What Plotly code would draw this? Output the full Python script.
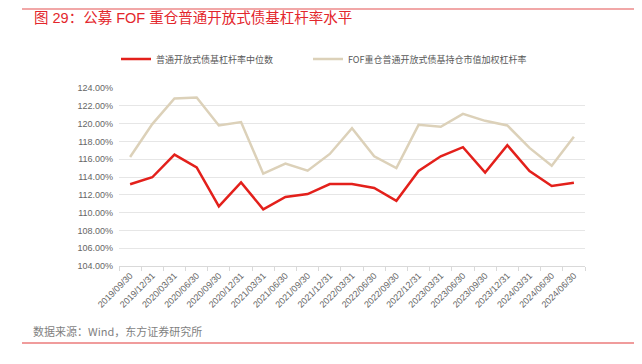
import plotly.graph_objects as go

dates = ["2019/09/30", "2019/12/31", "2020/03/31", "2020/06/30", "2020/09/30",
         "2020/12/31", "2021/03/31", "2021/06/30", "2021/09/30", "2021/12/31",
         "2022/03/31", "2022/06/30", "2022/09/30", "2022/12/31", "2023/03/31",
         "2023/06/30", "2023/09/30", "2023/12/31", "2024/03/31", "2024/06/30",
         "2024/06/30"]

median_lev = [113.18, 113.97, 116.52, 115.09, 110.70, 113.40, 110.36, 111.75,
              112.08, 113.21, 113.21, 112.76, 111.33, 114.68, 116.33, 117.35,
              114.49, 117.57, 114.68, 112.99, 113.36]

fof_lev = [116.25, 119.94, 122.83, 122.94, 119.79, 120.17, 114.38, 115.50,
           114.71, 116.59, 119.49, 116.33, 115.01, 119.86, 119.64, 121.10,
           120.31, 119.79, 117.27, 115.27, 118.51]

name_a = "普通开放式债基杠杆率中位数"
name_b = "FOF重仓普通开放式债基持仓市值加权杠杆率"
title = "图 29：公募 FOF 重仓普通开放式债基杠杆率水平"
source = "数据来源：Wind，东方证券研究所"

xs = list(range(len(dates)))
FONT = "Liberation Sans, Arial, Noto Sans CJK SC, sans-serif"
CJK = "Noto Sans CJK SC, Liberation Sans, sans-serif"

W, H = 642, 364
OFF = 8  # page body margin offset

# target plot area in window pixels: x 119..585, y 88..266
ML = 119 - OFF
MT = 88 - OFF
MR = W - (585 - OFF)
MB = H - (266 - OFF)


def cx(x):
    return (x - OFF) / W


def cy(y):
    return 1 - (y - OFF) / H


PW = W - ML - MR
PH = H - MT - MB


def px(x):
    return (x - OFF - ML) / PW


def py(y):
    return (H - MB - (y - OFF)) / PH


fig = go.Figure()
fig.add_trace(go.Scatter(x=xs, y=median_lev, mode="lines", name=name_a,
                         legend="legend",
                         line=dict(color="#E3201B", width=2.5)))
fig.add_trace(go.Scatter(x=xs, y=fof_lev, mode="lines", name=name_b,
                         legend="legend2",
                         line=dict(color="#DCD1B9", width=2.5)))

leg_common = dict(orientation="h", xref="container", yref="container",
                  xanchor="left", yanchor="middle",
                  font=dict(family=CJK, size=9, color="#595959"),
                  itemwidth=30, bgcolor="rgba(0,0,0,0)")

fig.update_layout(
    width=W, height=H,
    margin=dict(l=ML, r=MR, t=MT, b=MB, autoexpand=False),
    paper_bgcolor="white", plot_bgcolor="white",
    font=dict(family=CJK, color="#666666", size=9),
    showlegend=True,
    legend=dict(x=cx(116), y=cy(59), **leg_common),
    legend2=dict(x=cx(308), y=cy(59), **leg_common),
    xaxis=dict(
        range=[-0.5, len(dates) - 0.5],
        tickmode="array", tickvals=xs, ticktext=dates,
        tickangle=-45, tickfont=dict(family=FONT, size=9, color="#666666"),
        ticks="", showgrid=False, zeroline=False, automargin=False,
        showline=True, linecolor="#D9D9D9", linewidth=1,
        minor=dict(tickvals=[i - 0.5 for i in range(len(dates) + 1)],
                   ticks="outside", ticklen=4, tickcolor="#D9D9D9", showgrid=False),
    ),
    yaxis=dict(
        range=[104, 124], dtick=2, tick0=104,
        tickformat=".2f", ticksuffix="%", automargin=False,
        ticklabelstandoff=5,
        tickfont=dict(family=FONT, size=9, color="#666666"),
        showgrid=True, gridcolor="#E6E6E6", gridwidth=1,
        zeroline=False, ticks="", showline=False,
    ),
)

fig.add_annotation(text=title, xref="paper", yref="paper",
                   x=px(32), xanchor="left", y=py(18), yanchor="middle",
                   showarrow=False,
                   font=dict(family="Liberation Sans, Noto Sans CJK SC, sans-serif",
                             size=14.5, color="#E3262C"))
fig.add_annotation(text=source, xref="paper", yref="paper",
                   x=px(31), xanchor="left", y=py(331), yanchor="middle",
                   showarrow=False,
                   font=dict(family=CJK, size=11, color="#7F7F7F"))

fig.add_shape(type="line", xref="paper", yref="paper",
              x0=px(22), x1=px(650), y0=py(9), y1=py(9),
              line=dict(color="#EC8A8A", width=1.5))
fig.add_shape(type="line", xref="paper", yref="paper",
              x0=px(22), x1=px(650), y0=py(343), y1=py(343),
              line=dict(color="#F09C9C", width=2))

fig.write_html("out.html")
